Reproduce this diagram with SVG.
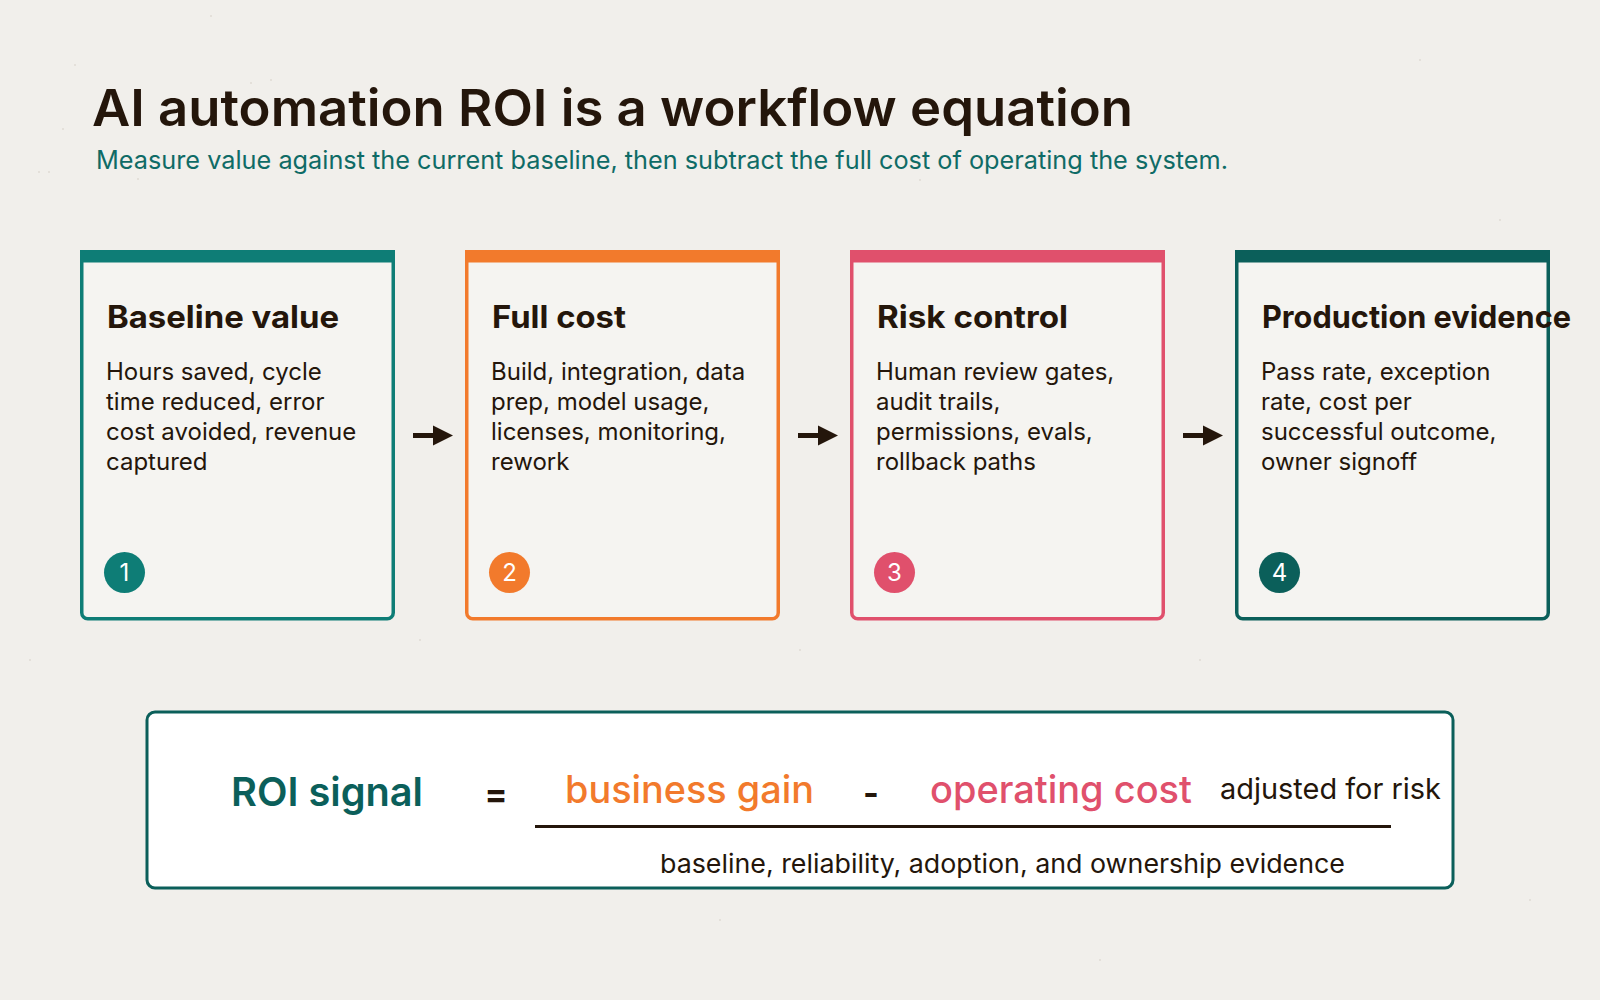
<svg xmlns="http://www.w3.org/2000/svg" width="1600" height="1000" viewBox="0 0 1600 1000">
  <defs>
    <style>
      .bg { fill: #f1efeb; }
      .card { fill: #f5f4f1; stroke-width: 3.5; }
      .ctitle { font-family: Inter, "Liberation Sans", sans-serif; font-weight: 700; font-size: 31.5px; fill: #24160b; }
      .cbody { font-family: Inter, "Liberation Sans", sans-serif; font-weight: 400; font-size: 24px; fill: #24160b; }
      .num { font-family: Inter, "Liberation Sans", sans-serif; font-weight: 400; font-size: 24px; fill: #ffffff; text-anchor: middle; }
      .arrow { stroke: #24160b; stroke-width: 5; fill: none; }
      .eq { font-family: Inter, "Liberation Sans", sans-serif; }
    </style>
    <marker id="ah" viewBox="0 0 10 10" refX="0" refY="5" markerWidth="4" markerHeight="4.8" orient="auto" markerUnits="strokeWidth">
      <path d="M0,0 L10,5 L0,10 Z" fill="#24160b"/>
    </marker>
  </defs>

  <rect class="bg" x="0" y="0" width="1600" height="1000"/>

  <g id="background-sparkles" fill="#d9d4cc" opacity="0.7">
    <circle cx="211" cy="16" r="1"/><circle cx="75" cy="65" r="1"/><circle cx="63" cy="129" r="1"/>
    <circle cx="251" cy="83" r="1"/><circle cx="271" cy="80" r="1"/><circle cx="49" cy="172" r="1"/>
    <circle cx="39" cy="172" r="1"/><circle cx="138" cy="179" r="1"/><circle cx="920" cy="180" r="1"/>
    <circle cx="1420" cy="60" r="1"/><circle cx="1500" cy="220" r="1"/><circle cx="30" cy="660" r="1"/>
    <circle cx="720" cy="920" r="1"/><circle cx="1530" cy="900" r="1"/><circle cx="1100" cy="960" r="1"/>
    <circle cx="420" cy="640" r="1"/><circle cx="800" cy="650" r="1"/><circle cx="1200" cy="660" r="1"/>
  </g>

  <g id="title">
    <text x="92" y="126" font-family="Inter, 'Liberation Sans', sans-serif" font-weight="600" font-size="51" fill="#24160b" textLength="1041" lengthAdjust="spacingAndGlyphs">AI automation ROI is a workflow equation</text>
    <text x="96" y="169" font-family="Inter, 'Liberation Sans', sans-serif" font-weight="400" font-size="25" fill="#0f6b66" textLength="1132" lengthAdjust="spacingAndGlyphs">Measure value against the current baseline, then subtract the full cost of operating the system.</text>
  </g>

  <g id="connectors">
    <line class="arrow" x1="413" y1="435.5" x2="433" y2="435.5" marker-end="url(#ah)"/>
    <line class="arrow" x1="798" y1="435.5" x2="818" y2="435.5" marker-end="url(#ah)"/>
    <line class="arrow" x1="1183" y1="435.5" x2="1203" y2="435.5" marker-end="url(#ah)"/>
  </g>

  <g id="card-1">
    <rect class="card" x="81.75" y="251.75" width="311.5" height="367" rx="6" stroke="#0e7d76"/>
    <rect x="80" y="250" width="315" height="12.5" fill="#0e7d76"/>
    <text class="ctitle" x="107" y="327.5" textLength="232" lengthAdjust="spacingAndGlyphs">Baseline value</text>
    <text class="cbody" x="106" y="380">Hours saved, cycle</text>
    <text class="cbody" x="106" y="410">time reduced, error</text>
    <text class="cbody" x="106" y="440">cost avoided, revenue</text>
    <text class="cbody" x="106" y="469.5">captured</text>
    <circle cx="124.5" cy="572.5" r="20.5" fill="#0e7d76"/>
    <text class="num" x="124.5" y="581">1</text>
  </g>

  <g id="card-2">
    <rect class="card" x="466.75" y="251.75" width="311.5" height="367" rx="6" stroke="#f27a2c"/>
    <rect x="465" y="250" width="315" height="12.5" fill="#f27a2c"/>
    <text class="ctitle" x="492" y="327.5" textLength="134" lengthAdjust="spacingAndGlyphs">Full cost</text>
    <text class="cbody" x="491" y="380">Build, integration, data</text>
    <text class="cbody" x="491" y="410">prep, model usage,</text>
    <text class="cbody" x="491" y="440">licenses, monitoring,</text>
    <text class="cbody" x="491" y="469.5">rework</text>
    <circle cx="509.5" cy="572.5" r="20.5" fill="#f27a2c"/>
    <text class="num" x="509.5" y="581">2</text>
  </g>

  <g id="card-3">
    <rect class="card" x="851.75" y="251.75" width="311.5" height="367" rx="6" stroke="#e0506c"/>
    <rect x="850" y="250" width="315" height="12.5" fill="#e0506c"/>
    <text class="ctitle" x="877" y="327.5" textLength="191" lengthAdjust="spacingAndGlyphs">Risk control</text>
    <text class="cbody" x="876" y="380">Human review gates,</text>
    <text class="cbody" x="876" y="410">audit trails,</text>
    <text class="cbody" x="876" y="440">permissions, evals,</text>
    <text class="cbody" x="876" y="469.5">rollback paths</text>
    <circle cx="894.5" cy="572.5" r="20.5" fill="#e0506c"/>
    <text class="num" x="894.5" y="581">3</text>
  </g>

  <g id="card-4">
    <rect class="card" x="1236.75" y="251.75" width="311.5" height="367" rx="6" stroke="#0b5f5a"/>
    <rect x="1235" y="250" width="315" height="12.5" fill="#0b5f5a"/>
    <text class="ctitle" x="1262" y="327.5" textLength="309" lengthAdjust="spacingAndGlyphs">Production evidence</text>
    <text class="cbody" x="1261" y="380">Pass rate, exception</text>
    <text class="cbody" x="1261" y="410">rate, cost per</text>
    <text class="cbody" x="1261" y="440">successful outcome,</text>
    <text class="cbody" x="1261" y="469.5">owner signoff</text>
    <circle cx="1279.5" cy="572.5" r="20.5" fill="#0b5f5a"/>
    <text class="num" x="1279.5" y="581">4</text>
  </g>

  <g id="equation">
    <rect x="147" y="712" width="1306" height="176" rx="8" fill="#ffffff" stroke="#0b5f5a" stroke-width="3"/>
    <text class="eq" x="231" y="806" font-size="40" font-weight="600" fill="#0b5f5a" textLength="192" lengthAdjust="spacingAndGlyphs">ROI signal</text>
    <text class="eq" x="496" y="806" font-size="34" font-weight="700" fill="#24160b" text-anchor="middle">=</text>
    <text class="eq" x="565" y="803" font-size="38" font-weight="500" fill="#f27a2c" textLength="249" lengthAdjust="spacingAndGlyphs">business gain</text>
    <text class="eq" x="871" y="805" font-size="34" font-weight="700" fill="#24160b" text-anchor="middle">-</text>
    <text class="eq" x="930" y="803" font-size="38" font-weight="500" fill="#e0506c" textLength="262" lengthAdjust="spacingAndGlyphs">operating cost</text>
    <text class="eq" x="1220" y="799" font-size="29" font-weight="400" fill="#24160b" textLength="221" lengthAdjust="spacingAndGlyphs">adjusted for risk</text>
    <line x1="535" y1="826.5" x2="1391" y2="826.5" stroke="#24160b" stroke-width="3"/>
    <text class="eq" x="660" y="873" font-size="26" font-weight="400" fill="#24160b" textLength="685" lengthAdjust="spacingAndGlyphs">baseline, reliability, adoption, and ownership evidence</text>
  </g>
</svg>
